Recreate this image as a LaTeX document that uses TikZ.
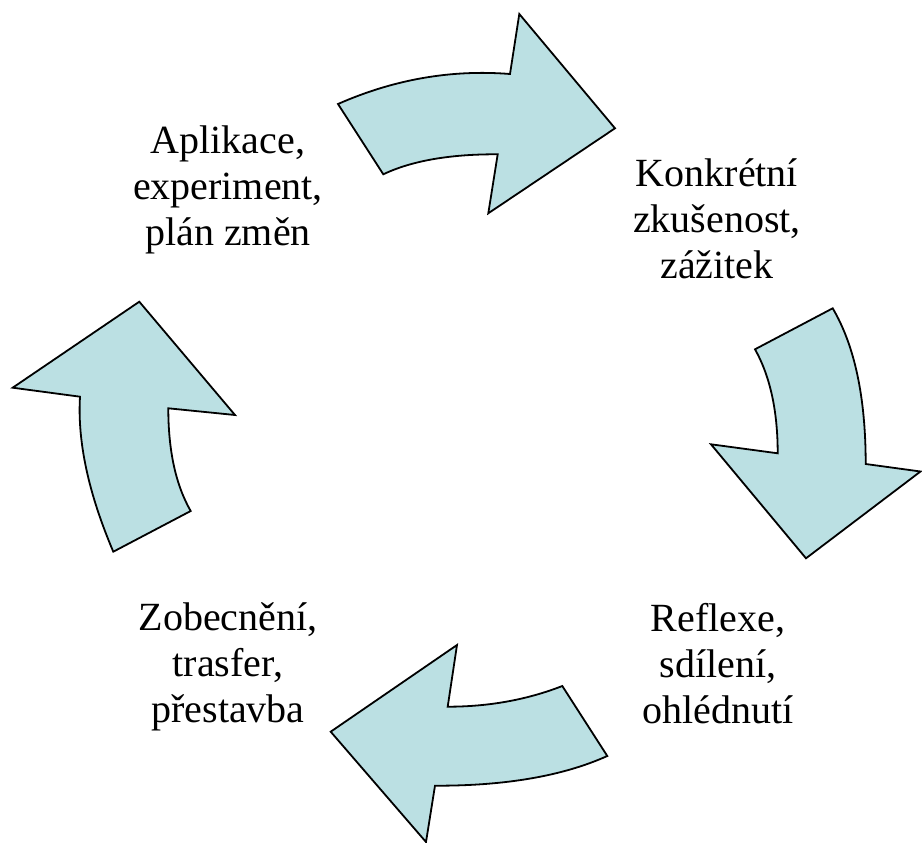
\documentclass[tikz,border=0pt]{standalone}
\usepackage{fontspec}
\setmainfont{Liberation Serif}
\usetikzlibrary{calc}
\definecolor{arrowfill}{RGB}{187,224,227}
\begin{document}
\begin{tikzpicture}[x=1pt,y=-1pt,
  cyclearrow/.style={draw=black, line width=1.8pt, fill=arrowfill, line join=miter},
  label/.style={align=center, inner sep=0pt, font=\fontsize{40}{46}\selectfont}]
\useasboundingbox (0,0) rectangle (922,843);
% top arrow
\coordinate (T1) at (338,104);
\coordinate (Tc1) at (422,67);
\coordinate (T2) at (510,74);
\coordinate (T3) at (519.3,14);
\coordinate (T4) at (615,128.3);
\coordinate (T5) at (488.3,213.3);
\coordinate (T6) at (497.7,154.3);
\coordinate (Tc2) at (426,154);
\coordinate (T7) at (383.3,174.3);
\draw[cyclearrow] (T1) .. controls ($(T1)!0.6667!(Tc1)$) and ($(T2)!0.6667!(Tc1)$) .. (T2)
  -- (T3) -- (T4) -- (T5) -- (T6)
  .. controls ($(T6)!0.6667!(Tc2)$) and ($(T7)!0.6667!(Tc2)$) .. (T7) -- cycle;
% right arrow
\coordinate (R1) at (832.7,308.3);
\coordinate (Rc1) at (865.7,364.4);
\coordinate (R2) at (865.7,464);
\coordinate (R3) at (920.5,471.5);
\coordinate (R4) at (806,558.3);
\coordinate (R5) at (711,444.3);
\coordinate (R6) at (777.7,453.3);
\coordinate (Rc2) at (777.7,389.8);
\coordinate (R7) at (755,349.3);
\draw[cyclearrow] (R1) .. controls ($(R1)!0.6667!(Rc1)$) and ($(R2)!0.6667!(Rc1)$) .. (R2)
  -- (R3) -- (R4) -- (R5) -- (R6)
  .. controls ($(R6)!0.6667!(Rc2)$) and ($(R7)!0.6667!(Rc2)$) .. (R7) -- cycle;
% bottom arrow
\coordinate (B1) at (562.3,686);
\coordinate (B2) at (607.3,756);
\coordinate (Bc1) at (540.6,786);
\coordinate (B3) at (435,785.7);
\coordinate (B4) at (426,842);
\coordinate (B5) at (330.7,731.7);
\coordinate (B6) at (457,645);
\coordinate (B7) at (447.7,706.7);
\coordinate (Bc2) at (509.2,706.7);
\draw[cyclearrow] (B1) -- (B2)
  .. controls ($(B2)!0.6667!(Bc1)$) and ($(B3)!0.6667!(Bc1)$) .. (B3)
  -- (B4) -- (B5) -- (B6) -- (B7)
  .. controls ($(B7)!0.6667!(Bc2)$) and ($(B1)!0.6667!(Bc2)$) .. (B1) -- cycle;
% left arrow
\coordinate (L1) at (113.3,551.7);
\coordinate (L2) at (190.7,511);
\coordinate (Lc1) at (168.3,472);
\coordinate (L3) at (168.3,408.3);
\coordinate (L4) at (235,415);
\coordinate (L5) at (139.3,301.7);
\coordinate (L6) at (12.7,387.7);
\coordinate (L7) at (80,396.7);
\coordinate (Lc2) at (76,464);
\draw[cyclearrow] (L1) -- (L2)
  .. controls ($(L2)!0.6667!(Lc1)$) and ($(L3)!0.6667!(Lc1)$) .. (L3)
  -- (L4) -- (L5) -- (L6) -- (L7)
  .. controls ($(L7)!0.6667!(Lc2)$) and ($(L1)!0.6667!(Lc2)$) .. (L1) -- cycle;
% labels
\node[label] (apl) at (228,190.1) {\strut Aplikace,\\\strut experiment,\\\strut plán změn};
\node[label] (kon) at (717,223.5) {\strut Konkrétní\\\strut zkušenost,\\\strut zážitek};
\node[label] (ref) at (718,668.5) {\strut Reflexe,\\\strut sdílení,\\\strut ohlédnutí};
\node[label] (zob) at (228,667.5) {\strut Zobecnění,\\\strut trasfer,\\\strut přestavba};
\end{tikzpicture}
\end{document}
